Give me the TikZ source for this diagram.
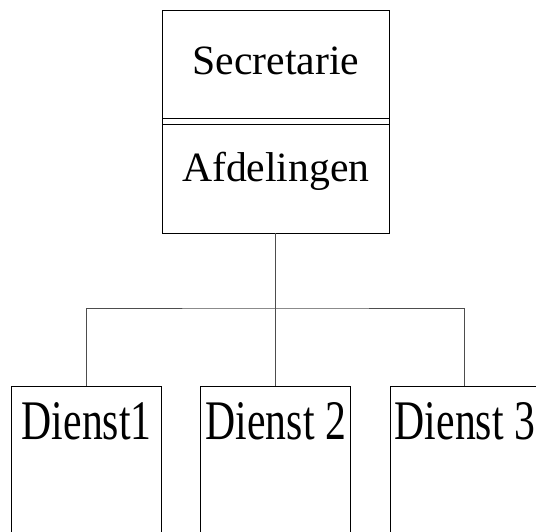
\documentclass[tikz,border=0pt]{standalone}
\usepackage{fontspec}
\setmainfont{Liberation Serif}
\usetikzlibrary{positioning}
\definecolor{ink}{HTML}{000000}
\definecolor{wire}{HTML}{4D4D4D}
\newcommand\tallword[1]{\scalebox{1}[1.34]{#1}}
\tikzset{line width=.5pt,
  every node/.style={font=\fontsize{20.85}{25}\selectfont},
  unitbox/.style={draw=ink,inner sep=0pt,minimum width=113.5pt,minimum height=54.2pt},
  dienstbox/.style={draw=ink,inner sep=0pt,minimum width=75pt,minimum height=88pt,
    text height=20pt,text depth=54.5pt},
  link/.style={draw=wire,line width=.5pt}}
\begin{document}
\begin{tikzpicture}
\useasboundingbox(0,0)rectangle(268pt,-265.5pt);\clip(0,0)rectangle(268pt,-265.5pt);
\node[unitbox,anchor=north,text height=12pt,text depth=2.15pt](sec)at(137.9pt,-5pt){Secretarie};
\node[unitbox,below=2.5pt of sec,text height=12pt,text depth=9.5pt](afd){Afdelingen};
\draw[ink](sec.south west)--(afd.north west);\draw[ink](sec.south east)--(afd.north east);
\node[dienstbox,below=76.15pt of afd](d2){\tallword{Dienst 2}};
\node[dienstbox,left=19.15pt of d2](d1){\tallword{Dienst1}};
\node[dienstbox,right=19.15pt of d2](d3){\tallword{Dienst 3}};
\coordinate(bus)at(afd.south|-0,-154pt);
\draw[link](afd.south)--(d2.north);
\draw[link](d1.north)|-(bus)-|(d3.north);
\end{tikzpicture}
\end{document}
